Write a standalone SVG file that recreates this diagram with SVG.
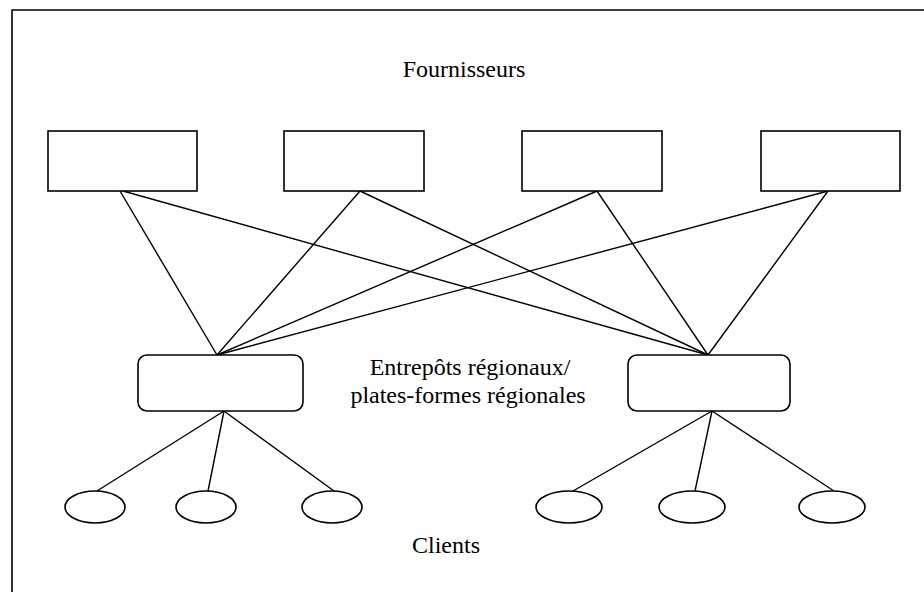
<svg xmlns="http://www.w3.org/2000/svg" width="924" height="592" viewBox="0 0 924 592">
<style>
.n{fill:#fff;stroke:#000;stroke-width:1.6}
.c line{stroke:#000;stroke-width:1.4}
.t{font-family:"Liberation Serif","Times New Roman",serif;font-size:24px;fill:#000;text-anchor:middle}
</style>
<rect x="0" y="0" width="924" height="592" fill="#fff"/>
<path d="M12 600 V10 H930" fill="none" stroke="#000" stroke-width="1.6"/>
<g id="connectors" class="c">
<line x1="120" y1="191" x2="217" y2="355"/>
<line x1="123" y1="191" x2="708" y2="355"/>
<line x1="360" y1="191" x2="217" y2="355"/>
<line x1="360" y1="191" x2="708" y2="355"/>
<line x1="597" y1="191" x2="217" y2="355"/>
<line x1="597" y1="191" x2="708" y2="355"/>
<line x1="828" y1="191" x2="217" y2="355"/>
<line x1="828" y1="191" x2="708" y2="355"/>
<line x1="224" y1="411" x2="97" y2="491"/>
<line x1="224" y1="411" x2="208" y2="491"/>
<line x1="224" y1="411" x2="334" y2="491"/>
<line x1="712" y1="411" x2="573" y2="491"/>
<line x1="712" y1="411" x2="695" y2="491"/>
<line x1="712" y1="411" x2="834" y2="491"/>
</g>
<g id="f1"><rect class="n" x="48" y="131" width="149" height="60"/></g>
<g id="f2"><rect class="n" x="284" y="131" width="140" height="60"/></g>
<g id="f3"><rect class="n" x="522" y="131" width="140" height="60"/></g>
<g id="f4"><rect class="n" x="761" y="131" width="139" height="60"/></g>
<g id="e1"><rect class="n" x="138" y="355" width="165" height="56" rx="9"/></g>
<g id="e2"><rect class="n" x="628" y="355" width="162" height="56" rx="9"/></g>
<g id="c1"><ellipse class="n" cx="95" cy="507" rx="30" ry="16"/></g>
<g id="c2"><ellipse class="n" cx="206" cy="507" rx="30" ry="16"/></g>
<g id="c3"><ellipse class="n" cx="332" cy="507" rx="30" ry="16"/></g>
<g id="c4"><ellipse class="n" cx="569" cy="507" rx="33" ry="16"/></g>
<g id="c5"><ellipse class="n" cx="692" cy="507" rx="33" ry="16"/></g>
<g id="c6"><ellipse class="n" cx="832" cy="507" rx="33" ry="16"/></g>
<g id="labels">
<text class="t" x="464" y="77">Fournisseurs</text>
<text class="t" x="470" y="375">Entrepôts régionaux/</text>
<text class="t" x="468" y="403">plates-formes régionales</text>
<text class="t" x="446" y="553">Clients</text>
</g>
</svg>
